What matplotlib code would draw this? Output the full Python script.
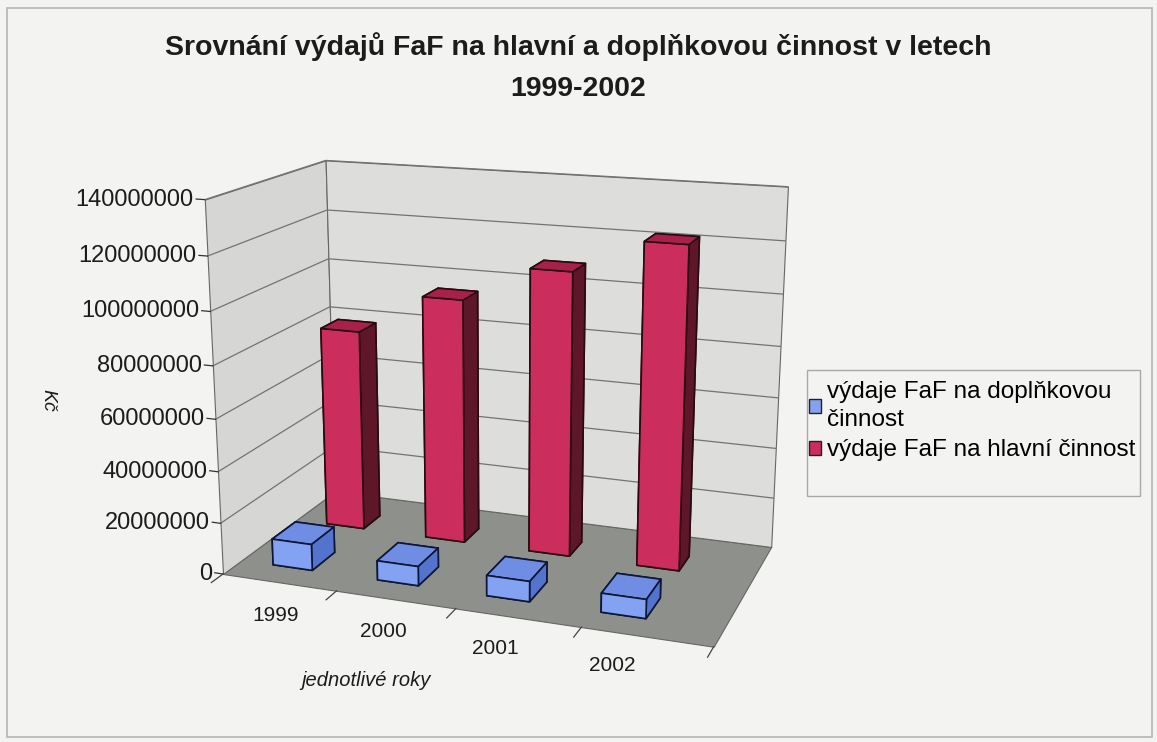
import numpy as np
import matplotlib
matplotlib.use('Agg')
import matplotlib.pyplot as plt
from matplotlib.patches import Patch, Rectangle
from mpl_toolkits.mplot3d import proj3d
from mpl_toolkits.mplot3d.art3d import Poly3DCollection

# ---------------- data ----------------
years = ['1999', '2000', '2001', '2002']
doplnkova = [10.3e6, 7.5e6, 7.8e6, 7.2e6]        # výdaje FaF na doplňkovou činnost
hlavni = [80.5e6, 96.5e6, 110.5e6, 123.5e6]      # výdaje FaF na hlavní činnost
series_labels = ['výdaje FaF na doplňkovou\nčinnost', 'výdaje FaF na hlavní činnost']
z_ticks = [0, 20000000, 40000000, 60000000, 80000000, 100000000, 120000000, 140000000]
title_text = 'Srovnání výdajů FaF na hlavní a doplňkovou činnost v letech\n1999-2002'
x_title = 'jednotlivé roky'
z_title = 'Kč'

# ---------------- style ----------------
plt.rcParams['font.family'] = ['Liberation Sans', 'DejaVu Sans']
BG = '#f3f3f1'
FLOOR = '#8e908c'
WALL_L = '#d6d7d5'
WALL_B = '#dddedc'
GRID = '#737472'
EDGE = '#666666'
TXT = '#1c1c1c'
BLUE = {'front': '#84a2f2', 'top': '#6f8de2', 'side': '#5473cc'}
RED = {'front': '#cb2d5d', 'top': '#a8214b', 'side': '#5e1629'}

W, H = 1157, 742
fig = plt.figure(figsize=(W / 100, H / 100), dpi=100, facecolor=BG)

ax = fig.add_axes([0.05, 0.05, 0.70, 0.85], projection='3d')
ax.set_axis_off()
ax.patch.set_alpha(0)
ax.computed_zorder = False
ax.set_proj_type('persp', focal_length=0.5)
ax.view_init(elev=16, azim=-70)

ncat = len(years)
x0, x1 = 0.0, ncat + 0.33       # floor runs a little past the last category
y0, y1 = 0.0, 1.0
zmax = z_ticks[-1]
bw = 0.38                     # bar width (category units)
rows = {'front': (0.15, 0.20), 'back': (0.63, 0.16)}   # (start, depth)
ASPECT = (1.0, 0.52, 0.755)

# floor and walls
floor = Poly3DCollection([[(x0, y0, 0), (x1, y0, 0), (x1, y1, 0), (x0, y1, 0)]],
                         facecolor=FLOOR, edgecolor=EDGE, linewidth=0.8, zorder=1)
lwall = Poly3DCollection([[(x0, y0, 0), (x0, y1, 0), (x0, y1, zmax), (x0, y0, zmax)]],
                         facecolor=WALL_L, edgecolor=EDGE, linewidth=0.8, zorder=1)
bwall = Poly3DCollection([[(x0, y1, 0), (x1, y1, 0), (x1, y1, zmax), (x0, y1, zmax)]],
                         facecolor=WALL_B, edgecolor=EDGE, linewidth=0.8, zorder=1)
for c in (floor, lwall, bwall):
    ax.add_collection3d(c)

for v in z_ticks[1:]:
    ax.plot([x0, x0, x1], [y0, y1, y1], [v, v, v], color=GRID, lw=0.9, zorder=2)

# tick marks
for v in z_ticks:
    ax.plot([x0 - 0.08, x0], [y0, y0], [v, v], color='#333333', lw=0.9, zorder=2)
for k in range(ncat + 1):
    xt = x0 + k * (x1 - x0) / ncat
    ax.plot([xt, xt], [y0, y0 - 0.09], [0, 0], color='#444444', lw=0.9, zorder=2)

# bars: back row (hlavni) first, then front row (doplnkova)
def colors6(c):
    return [c['side'], c['top'], c['front'], c['side'], c['side'], c['side']]

for i in range(ncat):
    ys, dep = rows['back']
    ax.bar3d(i + 0.5 - bw / 2, ys, 0, bw, dep, hlavni[i], color=colors6(RED),
             edgecolor='#2a0a12', linewidth=1.2, shade=False, zorder=5 + i)
for i in range(ncat):
    ys, dep = rows['front']
    ax.bar3d(i + 0.5 - bw / 2, ys, 0, bw, dep, doplnkova[i], color=colors6(BLUE),
             edgecolor='#0e1636', linewidth=1.2, shade=False, zorder=10 + i)

ax.set_xlim(x0, x1)
ax.set_ylim(y0, y1)
ax.set_zlim(0, zmax)


def to_px(x, y, z):
    xs, ys, _ = proj3d.proj_transform(x, y, z, ax.M)
    return np.asarray(ax.transData.transform((xs, ys)))


# fit the drawn floor's front edge to the reference layout
t1 = np.array([223.0, H - 574.0])
t2 = np.array([715.0, H - 637.0])
zoom = 1.0
ax.set_box_aspect(ASPECT, zoom=zoom)
fig.canvas.draw()
for _ in range(3):
    p1, p2 = to_px(x0, y0, 0), to_px(x1, y0, 0)
    zoom *= np.linalg.norm(t2 - t1) / np.linalg.norm(p2 - p1)
    ax.set_box_aspect(ASPECT, zoom=zoom)
    fig.canvas.draw()
    p1 = to_px(x0, y0, 0)
    d = (t1 - p1) / np.array([W, H])
    pos = ax.get_position(original=True)
    ax.set_position([pos.x0 + d[0], pos.y0 + d[1], pos.width, pos.height])
    fig.canvas.draw()

# value-axis labels
for v in z_ticks:
    px, py = to_px(x0, y0, v)
    fig.text((px - 11) / W, py / H, f'{v:d}', ha='right', va='center',
             fontsize=17, color=TXT)

# category labels
for i, yr in enumerate(years):
    px, py = to_px(i + 0.5, y0, 0)
    fig.text((px + 1) / W, (py - 34) / H, yr, ha='center', va='center',
             fontsize=15, color=TXT)

# titles
fig.text(578 / W, 1 - 67 / H, title_text, ha='center', va='center', linespacing=1.72,
         fontsize=20.5, fontweight='bold', color=TXT)
fig.text(48 / W, 1 - 400 / H, z_title, ha='center', va='center', rotation=270,
         fontsize=14, fontstyle='italic', color=TXT)
fig.text(366 / W, 1 - 681 / H, x_title, ha='center', va='center',
         fontsize=14.5, fontstyle='italic', color=TXT)

# legend
fig.patches.append(Rectangle((807 / W, 1 - 496 / H), 333 / W, 126 / H,
                             transform=fig.transFigure, facecolor='none',
                             edgecolor='#a8a8a8', lw=1.0))
handles = [Patch(facecolor=BLUE['front'], edgecolor='#222222'),
           Patch(facecolor=RED['front'], edgecolor='#222222')]
leg = fig.legend(handles, series_labels, loc='upper left',
                 bbox_to_anchor=(809 / W, 1 - 381 / H), frameon=False, fontsize=17.5,
                 handlelength=0.5, handleheight=0.5, handletextpad=0.25, labelspacing=0.35,
                 borderaxespad=0, borderpad=0)
for t in leg.get_texts():
    t.set_linespacing(1.35)

# outer border
fig.patches.append(Rectangle((7 / W, 1 - 737 / H), 1145 / W, 729 / H,
                             transform=fig.transFigure, facecolor='none',
                             edgecolor='#b5b5b5', lw=1.2))

fig.savefig('out.png', dpi=100, facecolor=BG)
